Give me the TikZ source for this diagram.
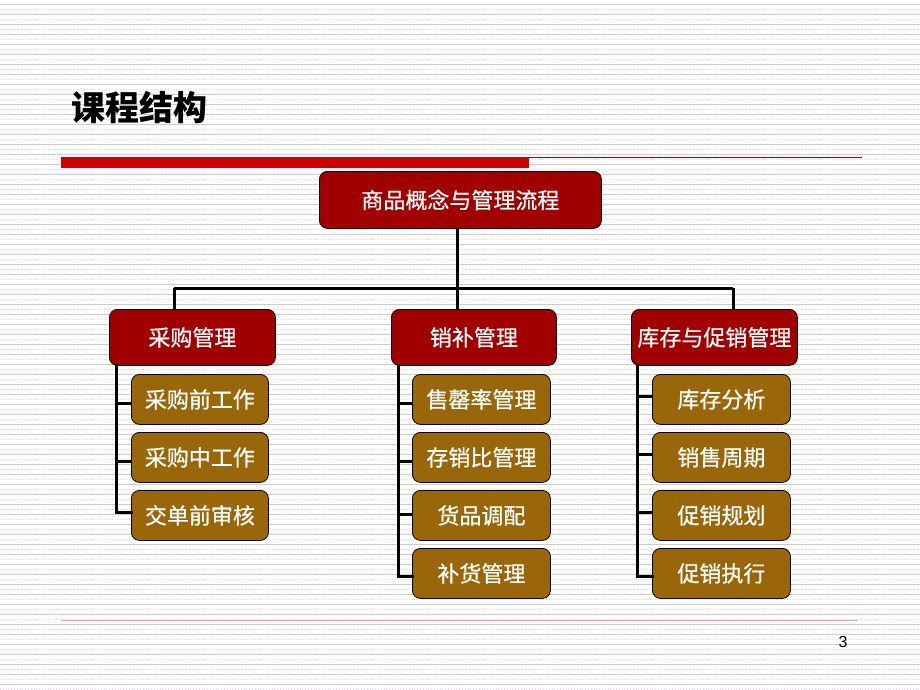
\documentclass[tikz,border=0pt]{standalone}
\usepackage{fontspec}
\setmainfont{Liberation Sans}
\newfontfamily\cjk{Noto Sans CJK SC}
\newfontfamily\cjkm[FakeBold=0.6]{Noto Sans CJK SC}
\definecolor{topred}{RGB}{160,0,0}
\definecolor{subbrown}{RGB}{153,102,10}
\definecolor{barred}{RGB}{204,0,0}
\definecolor{stripe}{RGB}{204,206,204}
\definecolor{stripeb}{RGB}{224,208,230}
\definecolor{thinred}{RGB}{240,160,160}
\tikzset{
  x=1pt, y=-1pt,
  mainbox/.style={draw=black, line width=0.8pt, rounded corners=8pt, fill=topred,
    text=white, font=\cjkm\fontsize{22}{24}\selectfont, inner sep=0pt, anchor=north west},
  subbox/.style={draw=black, line width=0.8pt, rounded corners=8pt, fill=subbrown,
    text=white, font=\cjkm\fontsize{22}{24}\selectfont, inner sep=0pt, anchor=north west,
    minimum width=138pt, minimum height=50pt},
  conn/.style={line width=3pt, black},
}
\begin{document}
\begin{tikzpicture}
\useasboundingbox (0,0) rectangle (920,690);
\fill[white] (0,0) rectangle (920,690);
% background stripes
\foreach \k in {0,...,68} {
  \draw[stripe, line width=0.9pt] (0,{10*\k+4}) -- (920,{10*\k+4});
  \draw[stripeb, line width=0.8pt, dotted] (0,{10*\k+9}) -- (920,{10*\k+9});
}
% title
\node[anchor=west, font=\cjk\bfseries\fontsize{34}{36}\selectfont, inner sep=0pt] (title) at (71,108) {课程结构};
% red bar
\fill[barred] (61,157) rectangle (529,168);
\draw[topred, line width=0.8pt] (529,157.4) -- (862,157.4);
% top node
\node[mainbox, minimum width=282pt, minimum height=57pt] (root) at (319,171) {商品概念与管理流程};
% level 2
\node[mainbox, minimum width=166pt, minimum height=56pt] (a) at (109,309) {采购管理};
\node[mainbox, minimum width=165pt, minimum height=56pt] (b) at (391,309) {销补管理};
\node[mainbox, minimum width=166pt, minimum height=56pt] (c) at (631,309) {库存与促销管理};
% sub boxes left
\node[subbox, minimum width=137pt] (a1) at (131,374) {采购前工作};
\node[subbox, minimum width=137pt] (a2) at (131,432) {采购中工作};
\node[subbox, minimum width=137pt] (a3) at (131,490) {交单前审核};
% middle
\node[subbox] (b1) at (412,374) {售罄率管理};
\node[subbox] (b2) at (412,432) {存销比管理};
\node[subbox] (b3) at (412,490) {货品调配};
\node[subbox] (b4) at (412,548) {补货管理};
% right
\node[subbox] (c1) at (652,374) {库存分析};
\node[subbox] (c2) at (652,432) {销售周期};
\node[subbox] (c3) at (652,490) {促销规划};
\node[subbox] (c4) at (652,548) {促销执行};
% connectors from root
\coordinate (hub) at (457,288);
\coordinate (hl) at (174,288);
\coordinate (hr) at (733,288);
\draw[conn] (root.south -| hub) -- (hub);
\draw[conn] (hl) -- (hr);
\draw[conn] (hl) -- (hl |- a.north);
\draw[conn] (hub) -- (hub |- b.north);
\draw[conn] (hr) -- (hr |- c.north);
% left bracket
\coordinate (la) at (116,365);
\draw[conn, line cap=rect] (la) -- (116,512) -- (a3.west |- 0,512);
\draw[conn] (116,403) -- (a1.west |- 0,403);
\draw[conn] (116,461) -- (a2.west |- 0,461);
% middle bracket
\coordinate (lb) at (398,365);
\draw[conn, line cap=rect] (lb) -- (398,576) -- (b4.west |- 0,576);
\draw[conn] (398,403) -- (b1.west |- 0,403);
\draw[conn] (398,461) -- (b2.west |- 0,461);
\draw[conn] (398,514) -- (b3.west |- 0,514);
% right bracket
\coordinate (lc) at (637,365);
\draw[conn, line cap=rect] (lc) -- (637,576) -- (c4.west |- 0,576);
\draw[conn] (637,396) -- (c1.west |- 0,396);
\draw[conn] (637,454) -- (c2.west |- 0,454);
\draw[conn] (637,512) -- (c3.west |- 0,512);
% bottom line
\draw[thinred, line width=1pt] (61,620) -- (858,620);
\node[font=\fontsize{16}{18}\selectfont, inner sep=0pt] (pg) at (843,642) {3};
\end{tikzpicture}
\end{document}
